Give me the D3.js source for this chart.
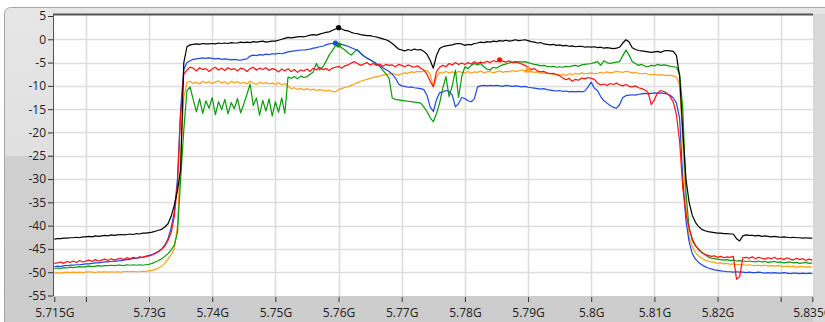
<!DOCTYPE html>
<html><head><meta charset="utf-8">
<script src="https://cdn.jsdelivr.net/npm/d3@7"></script>
<style>html,body{margin:0;padding:0;background:#fff;}svg{display:block;}</style>
</head><body>
<svg id="c" width="825" height="322"></svg>
<script>
// Frequency samples (MHz), 0.5 MHz apart from 5715 to 5835
const freqMHz = d3.range(0, 241).map(i => 5715 + i * 0.5);

const xTickValues = [5715, 5720, 5730, 5740, 5750, 5760, 5770, 5780, 5790, 5800, 5810, 5820, 5830, 5835];
const xTickLabels = ["5.715G", "", "5.73G", "5.74G", "5.75G", "5.76G", "5.77G", "5.78G", "5.79G", "5.8G", "5.81G", "5.82G", "", "5.835G"];
const yTickValues = [5, 0, -5, -10, -15, -20, -25, -30, -35, -40, -45, -50, -55];

const blackTrace = [
-42.9,-42.8,-42.8,-42.7,-42.7,-42.6,-42.6,-42.5,-42.6,-42.4,
-42.4,-42.3,-42.4,-42.2,-42.3,-42.2,-42.1,-42.2,-42.0,-42.1,
-42.0,-41.9,-42.0,-41.9,-41.8,-41.9,-41.7,-41.8,-41.6,-41.6,
-41.5,-41.4,-41.2,-41.0,-40.8,-40.3,-39.6,-38.0,-35.6,-32.5,
-28.0,-5.0,-1.6,-1.2,-1.1,-1.0,-1.1,-0.9,-1.0,-1.0,
-0.9,-1.0,-0.8,-0.9,-0.8,-0.9,-0.7,-0.8,-0.8,-0.6,
-0.7,-0.6,-0.7,-0.5,-0.6,-0.5,-0.4,-0.6,-0.5,-0.4,
-0.4,-0.2,0.0,0.2,0.4,0.3,0.4,0.5,0.6,0.5,
0.7,0.9,1.0,0.9,1.1,1.3,1.5,1.6,1.9,2.2,
2.5,2.2,1.9,1.8,1.5,1.3,1.2,1.0,0.9,0.8,
0.8,0.6,0.5,0.3,0.1,-0.1,-0.4,-0.9,-1.5,-2.1,
-2.3,-2.5,-2.2,-2.4,-2.1,-2.3,-2.2,-2.6,-3.2,-4.5,
-6.2,-3.5,-2.0,-1.6,-1.4,-1.3,-1.2,-1.0,-0.9,-1.0,
-1.3,-1.1,-1.2,-0.9,-0.8,-0.6,-0.7,-0.5,-0.6,-0.4,
-0.5,-0.3,-0.4,-0.2,-0.4,-0.3,-0.1,-0.3,-0.2,-0.1,
-0.3,-0.5,-0.6,-0.8,-0.7,-1.0,-1.1,-1.2,-1.1,-1.3,
-1.2,-1.4,-1.3,-1.5,-1.4,-1.6,-1.5,-1.5,-1.7,-1.6,
-1.7,-1.6,-1.8,-1.7,-1.9,-1.8,-1.9,-2.0,-1.9,-1.7,
-0.8,-0.1,-0.6,-1.8,-2.2,-2.4,-2.5,-2.6,-2.7,-2.8,
-2.7,-2.6,-2.8,-2.5,-2.4,-2.5,-2.6,-3.5,-8.0,-20.0,
-30.0,-35.0,-37.8,-39.3,-40.2,-40.8,-41.1,-41.3,-41.4,-41.5,
-41.6,-41.6,-41.7,-41.7,-41.8,-41.8,-42.8,-43.3,-42.2,-42.0,
-42.1,-42.1,-42.2,-42.1,-42.3,-42.2,-42.3,-42.4,-42.3,-42.4,
-42.5,-42.4,-42.5,-42.6,-42.5,-42.6,-42.6,-42.7,-42.6,-42.7,-42.7
];

const blueTrace = [
-48.8,-48.7,-48.8,-48.6,-48.6,-48.5,-48.5,-48.4,-48.4,-48.3,
-48.2,-48.2,-48.1,-48.0,-48.0,-47.9,-47.8,-47.8,-47.7,-47.6,
-47.6,-47.5,-47.4,-47.3,-47.2,-47.1,-47.0,-46.9,-46.8,-46.6,
-46.4,-46.2,-45.9,-45.5,-45.0,-44.2,-42.8,-40.5,-37.0,-30.0,
-15.0,-6.5,-5.0,-4.6,-4.3,-4.2,-4.1,-4.0,-4.1,-4.0,
-4.1,-4.2,-4.1,-4.3,-4.2,-4.3,-4.4,-4.3,-4.4,-4.5,
-4.3,-4.2,-3.6,-3.4,-3.5,-3.3,-3.4,-3.2,-3.3,-3.1,
-3.2,-3.0,-3.1,-2.9,-2.7,-2.6,-2.5,-2.4,-2.3,-2.3,
-2.2,-2.1,-1.9,-1.8,-1.6,-1.5,-1.2,-1.0,-0.9,-0.8,
-0.9,-1.1,-1.3,-1.5,-1.8,-2.1,-2.4,-3.0,-3.6,-4.0,
-4.4,-4.8,-5.3,-5.7,-6.1,-6.5,-6.9,-7.5,-8.3,-9.6,
-10.0,-10.1,-10.3,-10.2,-10.4,-10.5,-10.6,-10.8,-12.0,-14.5,
-15.5,-13.0,-11.5,-11.3,-11.0,-11.2,-12.0,-14.5,-13.8,-12.5,
-12.7,-13.2,-13.4,-12.8,-10.2,-10.0,-9.9,-10.0,-9.9,-10.0,
-9.9,-10.0,-10.1,-9.9,-10.0,-10.1,-10.0,-10.1,-10.2,-10.1,
-10.3,-10.4,-10.5,-10.6,-10.7,-10.6,-10.8,-10.9,-11.0,-11.1,
-11.0,-11.2,-11.1,-11.3,-11.2,-11.3,-11.2,-11.3,-11.1,-10.2,
-9.2,-10.5,-11.0,-12.3,-13.2,-13.7,-14.2,-14.6,-14.8,-14.0,
-12.5,-12.1,-12.0,-11.9,-12.0,-11.8,-11.7,-11.6,-11.7,-11.6,
-11.5,-11.6,-11.5,-11.6,-11.7,-12.0,-12.6,-13.7,-17.0,-30.0,
-39.0,-43.5,-46.0,-47.2,-47.9,-48.4,-48.8,-49.1,-49.3,-49.5,
-49.6,-49.7,-49.8,-49.9,-49.9,-50.0,-49.9,-50.0,-50.0,-50.1,
-50.0,-50.1,-50.1,-50.0,-50.1,-50.2,-50.1,-50.2,-50.1,-50.2,
-50.2,-50.1,-50.2,-50.3,-50.2,-50.2,-50.3,-50.2,-50.3,-50.2,-50.3
];

const redTrace = [
-48.1,-48.0,-47.8,-48.1,-47.7,-47.9,-47.6,-47.9,-47.5,-47.8,
-47.6,-47.4,-47.7,-47.3,-47.6,-47.4,-47.2,-47.5,-47.1,-47.4,
-47.2,-47.0,-47.3,-46.9,-47.1,-46.8,-47.0,-46.7,-46.8,-46.6,
-46.5,-46.3,-46.0,-45.6,-45.1,-44.4,-43.2,-41.5,-38.0,-31.0,
-16.0,-7.5,-6.6,-6.0,-6.2,-6.8,-6.1,-6.5,-6.3,-6.9,
-6.4,-6.0,-6.6,-6.2,-6.7,-6.1,-6.5,-6.3,-6.8,-6.2,
-6.4,-6.9,-6.3,-6.0,-6.6,-6.2,-6.5,-6.1,-6.7,-6.3,
-6.5,-7.0,-6.4,-6.8,-6.3,-6.9,-6.5,-7.1,-6.6,-6.8,
-6.4,-6.9,-6.2,-6.6,-6.0,-6.5,-6.3,-6.7,-6.2,-6.0,
-5.8,-6.2,-5.7,-5.5,-5.1,-4.8,-5.2,-5.6,-5.3,-5.0,
-5.5,-5.2,-5.6,-5.3,-5.8,-5.4,-5.6,-5.5,-5.9,-5.4,
-5.6,-5.9,-5.5,-5.8,-6.0,-5.7,-6.2,-6.6,-7.5,-9.0,
-10.2,-7.0,-6.0,-5.6,-5.9,-5.2,-5.5,-5.0,-5.4,-5.1,
-5.4,-5.0,-5.3,-4.8,-5.2,-4.9,-5.1,-4.7,-5.0,-4.6,
-4.8,-4.4,-4.7,-4.9,-4.6,-5.0,-4.8,-5.1,-5.3,-5.6,
-6.0,-6.5,-6.3,-6.8,-7.0,-6.9,-7.2,-7.4,-7.3,-7.6,
-7.8,-8.3,-8.7,-8.4,-9.0,-8.6,-8.8,-8.3,-8.5,-8.2,
-8.4,-8.6,-9.4,-9.8,-9.6,-9.9,-9.5,-9.7,-9.4,-9.8,
-10.0,-9.7,-10.1,-10.2,-10.0,-10.4,-10.6,-10.9,-11.4,-14.0,
-13.0,-11.5,-11.0,-11.2,-11.6,-12.3,-13.5,-16.3,-22.0,-32.0,
-37.5,-40.5,-42.8,-44.2,-45.2,-45.8,-46.2,-46.4,-46.6,-46.5,
-46.8,-46.6,-46.9,-46.7,-46.8,-46.6,-51.5,-51.0,-46.9,-46.8,
-47.0,-46.7,-47.1,-46.8,-47.0,-47.2,-46.9,-47.1,-46.8,-47.2,
-47.0,-47.3,-46.9,-47.2,-47.4,-47.0,-47.3,-47.1,-47.5,-47.2,-47.4
];

const greenTrace = [
-49.2,-49.1,-49.2,-49.0,-49.1,-48.9,-49.0,-48.9,-48.8,-48.9,
-48.8,-48.7,-48.8,-48.7,-48.6,-48.7,-48.6,-48.6,-48.5,-48.6,
-48.5,-48.5,-48.6,-48.4,-48.5,-48.4,-48.5,-48.4,-48.5,-48.4,
-48.3,-48.1,-47.8,-47.5,-47.1,-46.6,-46.0,-45.2,-44.2,-41.5,
-30.0,-19.5,-11.0,-10.2,-13.0,-15.6,-12.8,-15.9,-13.2,-14.8,
-12.5,-16.2,-13.4,-15.1,-12.9,-16.0,-13.6,-14.9,-12.7,-15.8,
-13.9,-11.8,-9.6,-14.2,-12.6,-16.3,-13.1,-15.4,-12.8,-16.5,
-13.4,-15.7,-12.6,-15.9,-8.1,-8.4,-8.0,-8.5,-7.9,-8.2,
-8.0,-7.5,-7.0,-5.2,-6.6,-6.0,-4.8,-3.4,-2.5,-1.4,
-1.2,-1.8,-2.3,-2.9,-3.4,-2.7,-2.2,-3.0,-3.6,-4.1,
-4.4,-4.8,-5.2,-5.8,-6.6,-7.4,-8.4,-12.6,-12.9,-13.0,
-13.1,-13.2,-13.3,-13.4,-13.5,-13.6,-13.7,-14.5,-15.5,-16.8,
-17.7,-16.0,-13.7,-10.5,-8.0,-12.3,-10.0,-6.6,-12.5,-8.0,
-5.9,-6.3,-5.6,-5.2,-5.5,-5.2,-5.9,-6.4,-6.6,-6.0,
-6.2,-5.8,-5.5,-5.3,-5.1,-4.9,-5.0,-4.8,-4.9,-4.8,
-5.0,-5.2,-5.4,-5.5,-5.7,-5.6,-5.8,-5.9,-5.8,-6.0,
-5.9,-6.0,-5.8,-5.9,-5.7,-5.6,-5.8,-5.5,-5.4,-5.3,
-5.2,-5.0,-4.8,-5.6,-4.6,-5.0,-5.2,-5.0,-4.9,-4.8,
-3.5,-2.3,-3.4,-4.8,-5.2,-5.6,-5.4,-5.8,-5.9,-5.6,
-5.7,-5.4,-5.6,-5.5,-5.6,-5.8,-5.9,-6.0,-7.5,-15.0,
-33.0,-40.5,-43.2,-44.4,-45.0,-45.7,-46.2,-46.7,-47.0,-47.1,
-47.2,-47.3,-47.4,-47.3,-47.5,-47.4,-47.6,-47.5,-47.6,-47.7,
-47.6,-47.7,-47.8,-47.6,-47.8,-47.7,-47.9,-47.8,-47.7,-47.9,
-47.8,-48.0,-47.9,-47.8,-48.0,-47.9,-48.1,-48.0,-47.9,-48.1,-48.0
];

const orangeTrace = [
-50.2,-50.1,-50.2,-50.1,-50.0,-50.1,-50.0,-50.1,-50.0,-50.1,
-50.0,-49.9,-50.0,-50.1,-49.9,-50.0,-49.9,-50.0,-49.9,-50.0,
-49.9,-50.0,-49.9,-49.8,-49.9,-49.8,-49.9,-49.9,-49.8,-49.8,
-49.7,-49.6,-49.4,-49.1,-48.7,-48.1,-47.2,-46.2,-45.0,-40.0,
-25.0,-12.5,-9.3,-9.0,-9.5,-9.2,-9.6,-9.0,-9.4,-9.1,
-9.5,-9.2,-8.9,-9.4,-9.1,-9.6,-9.0,-9.3,-9.1,-9.5,
-9.2,-9.6,-9.0,-9.4,-9.7,-9.2,-9.5,-9.3,-9.6,-9.4,
-9.7,-9.3,-9.8,-9.5,-10.0,-10.6,-10.4,-10.8,-10.5,-10.9,
-10.6,-10.9,-10.7,-11.0,-10.8,-10.9,-11.1,-10.9,-11.2,-11.3,
-10.8,-10.6,-10.3,-10.2,-9.9,-9.6,-9.3,-9.0,-8.8,-8.6,
-8.4,-8.2,-8.0,-7.9,-7.7,-7.6,-7.5,-7.3,-7.5,-7.7,
-7.4,-7.2,-7.3,-7.0,-7.1,-6.9,-7.0,-6.8,-6.7,-7.5,
-10.2,-8.2,-7.1,-7.3,-6.9,-7.2,-7.0,-7.3,-6.9,-7.1,
-7.2,-6.9,-7.3,-7.0,-7.1,-6.8,-7.2,-7.0,-6.9,-7.2,
-7.0,-6.8,-7.1,-6.9,-7.0,-6.7,-6.9,-6.8,-6.6,-6.7,
-6.6,-6.9,-7.1,-7.0,-7.3,-7.2,-7.4,-7.3,-7.6,-7.5,
-7.7,-7.5,-7.8,-7.4,-7.6,-7.3,-7.5,-7.2,-7.4,-7.3,
-7.2,-7.4,-7.3,-7.1,-7.3,-7.0,-7.2,-7.1,-6.9,-7.0,
-7.1,-6.9,-7.0,-7.2,-7.1,-7.3,-7.4,-7.3,-7.5,-7.6,
-7.5,-7.7,-7.6,-7.7,-7.8,-7.7,-7.9,-8.1,-10.0,-22.0,
-36.0,-42.5,-44.5,-45.8,-46.5,-47.0,-47.4,-47.6,-47.8,-47.9,
-48.1,-48.0,-48.2,-48.1,-48.3,-48.2,-48.4,-48.3,-48.4,-48.5,
-48.4,-48.5,-48.6,-48.5,-48.6,-48.5,-48.7,-48.6,-48.7,-48.6,
-48.7,-48.8,-48.7,-48.8,-48.7,-48.9,-48.8,-48.8,-48.9,-48.8,-48.9
];

// drawing order and colours
const seriesNames = ["orange", "green", "blue", "red", "black"];
const seriesColors = ["#ff9f1a", "#0a9a0a", "#1f48e0", "#ff1010", "#000000"];
const seriesData = [orangeTrace, greenTrace, blueTrace, redTrace, blackTrace];
// cursor markers: sample index per series, and marker shape
const markerIndex = [150, 90, 89, 141, 90];
const markerShape = ["triangle", "circle", "circle", "circle", "circle"];

const svg = d3.select("#c");
const W = 825, H = 322;
const plot = {left: 54, right: 813, top: 15, bottom: 296};

// panel background
svg.append("rect").attr("x", 0).attr("y", 0).attr("width", W).attr("height", H).attr("fill", "#ffffff");
const defs = svg.append("defs");
const grad = defs.append("linearGradient").attr("id", "panelGrad").attr("x1", 0).attr("y1", 0).attr("x2", 0).attr("y2", 1);
grad.append("stop").attr("offset", "0%").attr("stop-color", "#e6e6e6");
grad.append("stop").attr("offset", "43.4%").attr("stop-color", "#e0e0e0");
grad.append("stop").attr("offset", "43.5%").attr("stop-color", "#d0d0d0");
grad.append("stop").attr("offset", "100%").attr("stop-color", "#cccccc");
svg.append("rect").attr("x", 4.5).attr("y", 7.5).attr("width", W + 20).attr("height", H + 20)
  .attr("rx", 6).attr("fill", "url(#panelGrad)").attr("stroke", "#a6a6a6").attr("stroke-width", 1);
svg.append("rect").attr("x", plot.right).attr("y", plot.top - 1).attr("width", W - plot.right).attr("height", H)
  .attr("fill", "#d8d8d8");

const x = d3.scaleLinear().domain([5715, 5835]).range([54.3, 812.3]);
const y = d3.scaleLinear().domain([-55, 5]).range([295.5, 16]);

// plot area
svg.append("rect").attr("x", plot.left).attr("y", plot.top).attr("width", plot.right - plot.left)
  .attr("height", plot.bottom - plot.top).attr("fill", "#ffffff");

// grid
const grid = svg.append("g");
grid.selectAll("line.v").data(xTickValues.filter(v => v > 5715 && v < 5835)).join("line")
  .attr("x1", d => Math.round(x(d)) + 0.5).attr("x2", d => Math.round(x(d)) + 0.5)
  .attr("y1", plot.top).attr("y2", plot.bottom)
  .attr("stroke", "#dddddd").attr("stroke-width", 1.6);
grid.selectAll("line.h").data(yTickValues.filter(v => v < 5 && v > -55)).join("line")
  .attr("x1", plot.left).attr("x2", plot.right)
  .attr("y1", d => Math.round(y(d)) + 0.5).attr("y2", d => Math.round(y(d)) + 0.5)
  .attr("stroke", "#dddddd").attr("stroke-width", 1.6);

// traces
const clip = defs.append("clipPath").attr("id", "plotClip");
clip.append("rect").attr("x", plot.left).attr("y", plot.top).attr("width", plot.right - plot.left).attr("height", plot.bottom - plot.top);
const traces = svg.append("g").attr("clip-path", "url(#plotClip)");
const line = d3.line().x((d, i) => x(freqMHz[i])).y(d => y(d));
seriesData.forEach((arr, k) => {
  traces.append("path").datum(arr).attr("d", line)
    .attr("fill", "none").attr("stroke", seriesColors[k]).attr("stroke-width", 1.2)
    .attr("stroke-linejoin", "round");
});
// markers
seriesData.forEach((arr, k) => {
  const i = markerIndex[k];
  const cx = x(freqMHz[i]), cy = y(arr[i]);
  if (markerShape[k] === "circle") {
    traces.append("circle").attr("cx", cx).attr("cy", cy).attr("r", 2.6).attr("fill", seriesColors[k]);
  } else {
    traces.append("path").attr("d", d3.symbol(d3.symbolTriangle, 30)()).attr("transform", `translate(${cx},${cy})`)
      .attr("fill", seriesColors[k]);
  }
});

// plot frame: dark top and left edges
svg.append("line").attr("x1", plot.left - 1).attr("x2", plot.right).attr("y1", plot.top - 0.5).attr("y2", plot.top - 0.5)
  .attr("stroke", "#555555").attr("stroke-width", 2);
svg.append("line").attr("x1", plot.left - 0.5).attr("x2", plot.left - 0.5).attr("y1", plot.top - 1).attr("y2", plot.bottom)
  .attr("stroke", "#555555").attr("stroke-width", 1);

// axes
const fontFam = "'Open Sans', 'Noto Sans', sans-serif";
const yAxis = d3.axisLeft(y).tickValues(yTickValues).tickSize(5).tickPadding(2).tickFormat(d => d);
const yg = svg.append("g").attr("transform", `translate(${plot.left - 1},0)`).call(yAxis);
yg.select(".domain").remove();
yg.selectAll("line").attr("stroke", "#333");
yg.selectAll("text").attr("font-family", fontFam).attr("font-size", 12).attr("fill", "#222");

const xAxis = d3.axisBottom(x).tickValues(xTickValues).tickSize(5).tickPadding(6)
  .tickFormat((d, i) => xTickLabels[i]);
const xg = svg.append("g").attr("transform", `translate(0,${plot.bottom + 1})`).call(xAxis);
xg.select(".domain").remove();
xg.selectAll("line").attr("stroke", "#333");
xg.selectAll("text").attr("font-family", fontFam).attr("font-size", 12).attr("fill", "#222");
</script>
</body></html>
